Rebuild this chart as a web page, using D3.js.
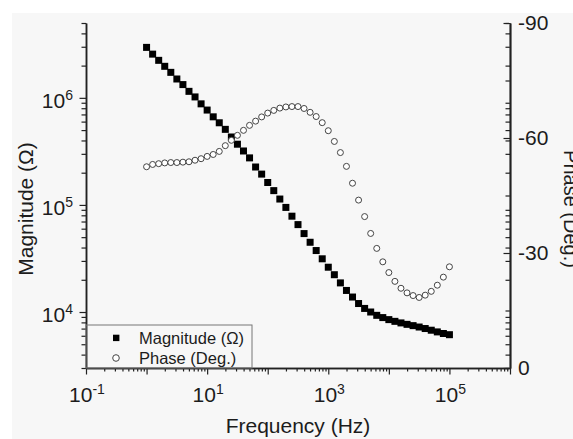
<!DOCTYPE html>
<html>
  <head>
      <meta charset="utf-8">
      <script type="text/javascript" src="https://d3js.org/d3.v7.min.js"></script>
      <style>
        body { margin: 0; background: #fff; }
        text { font-family: Arial, "Liberation Sans", sans-serif; fill: #1c1c1c; }
      </style>
  </head>
  <body>
      <svg width="573" height="439"></svg>
      <script>
        // frequency (Hz), 10 points per decade
        var freq = [1, 1.259, 1.585, 1.995, 2.512, 3.162, 3.981, 5.012, 6.310, 7.943,
                    10, 12.59, 15.85, 19.95, 25.12, 31.62, 39.81, 50.12, 63.10, 79.43,
                    100, 125.9, 158.5, 199.5, 251.2, 316.2, 398.1, 501.2, 631.0, 794.3,
                    1000, 1259, 1585, 1995, 2512, 3162, 3981, 5012, 6310, 7943,
                    10000, 12589, 15849, 19953, 25119, 31623, 39811, 50119, 63096, 79433,
                    100000]

        // |Z| (ohm)
        var magnitude = [2.96e6, 2.56e6, 2.24e6, 1.97e6, 1.73e6, 1.50e6, 1.33e6, 1.15e6, 1.02e6, 8.79e5,
                         7.69e5, 6.65e5, 5.85e5, 5.08e5, 4.31e5, 3.69e5, 3.19e5, 2.75e5, 2.26e5, 1.94e5,
                         1.62e5, 1.36e5, 1.135e5, 9.48e4, 7.85e4, 6.55e4, 5.40e4, 4.48e4, 3.75e4, 3.14e4,
                         2.62e4, 2.23e4, 1.87e4, 1.59e4, 1.38e4, 1.20e4, 1.08e4, 1.00e4, 9310, 8870,
                         8490, 8180, 7910, 7670, 7460, 7240, 7010, 6760, 6520, 6300,
                         6140]

        // phase (deg)
        var phase = [-52.5, -53.1, -53.3, -53.5, -53.6, -53.6, -53.7, -53.8, -54.2, -54.6,
                     -55.2, -55.7, -56.5, -58.0, -59.4, -60.7, -62.0, -63.3, -64.4, -65.5,
                     -66.5, -67.2, -67.8, -68.1, -68.2, -68.2, -67.7, -66.7, -65.6, -64.0,
                     -61.9, -59.1, -56.2, -52.6, -48.2, -43.8, -39.5, -35.1, -31.2, -27.7,
                     -24.9, -22.6, -20.8, -19.6, -18.9, -18.4, -19.0, -20.0, -21.6, -23.7,
                     -26.4]

        var xLabelExp = [-1, 1, 3, 5]
        var yLabelExp = [4, 5, 6]
        var phaseTicks = [0, -30, -60, -90]
        var phaseMinor = [-15, -45, -75]

        var svg = d3.select('svg')
        svg.append('rect').attr('x', 12).attr('y', 13).attr('width', 561).attr('height', 426).attr('fill', '#f7f7f7')

        var x = d3.scaleLog().domain([0.1, 1e6]).range([86, 510])
        var y = d3.scaleLog().domain([3000, 5e6]).range([368, 23])
        var yp = d3.scaleLinear().domain([0, -90]).range([368, 23])

        function decades(lo, hi){ var out = []; for (var e = lo; e <= hi; e++) out.push(Math.pow(10, e)); return out }
        function minors(lo, hi){
            var out = []
            for (var e = lo; e <= hi; e++) for (var m = 2; m <= 9; m++) out.push(m * Math.pow(10, e))
            return out
        }
        function inDomain(s){ var d = s.domain(); return function(v){ return v >= d[0] * 0.999 && v <= d[1] * 1.001 } }

        function style(g){
            g.select('.domain').attr('stroke', '#222').attr('stroke-width', 1.5)
            g.selectAll('.tick line').attr('stroke', '#222').attr('stroke-width', 1.2)
        }

        // bottom axis
        svg.append('g').attr('transform', 'translate(0,368)')
            .call(d3.axisBottom(x).tickValues(minors(-1, 5).filter(inDomain(x))).tickSize(3.5).tickSizeOuter(0).tickFormat(''))
            .call(style)
        svg.append('g').attr('transform', 'translate(0,368)')
            .call(d3.axisBottom(x).tickValues(decades(-1, 6)).tickSize(6.5).tickSizeOuter(0).tickFormat(''))
            .call(style)

        // left axis
        svg.append('g').attr('transform', 'translate(86,0)')
            .call(d3.axisLeft(y).tickValues(minors(3, 6).filter(inDomain(y))).tickSize(4.5).tickSizeOuter(0).tickFormat(''))
            .call(style)
        svg.append('g').attr('transform', 'translate(86,0)')
            .call(d3.axisLeft(y).tickValues(decades(4, 6)).tickSize(6.5).tickSizeOuter(0).tickFormat(''))
            .call(style)

        // right axis (ticks point inward)
        svg.append('g').attr('transform', 'translate(510,0)')
            .call(d3.axisRight(y).tickValues(minors(3, 6).filter(inDomain(y))).tickSize(-4.5).tickSizeOuter(0).tickFormat(''))
            .call(style)
        svg.append('g').attr('transform', 'translate(510,0)')
            .call(d3.axisRight(yp).tickValues(phaseMinor).tickSize(-4.5).tickSizeOuter(0).tickFormat(''))
            .call(style)
        svg.append('g').attr('transform', 'translate(510,0)')
            .call(d3.axisRight(yp).tickValues(phaseTicks).tickSize(-6.5).tickSizeOuter(0).tickPadding(8)
                .tickFormat(function(d){ return String(d) }))
            .call(style)
            .selectAll('.tick text').attr('font-size', 21).attr('font-family', 'Arial, Liberation Sans').attr('fill', '#1c1c1c')

        // power-of-ten labels
        function pow10(sel){
            sel.each(function(d){
                var t = d3.select(this)
                t.append('tspan').text('10')
                t.append('tspan').attr('dy', -8).attr('font-size', 14).text(d)
            })
        }
        svg.selectAll('.xlab').data(xLabelExp).enter().append('text')
            .attr('class', 'xlab')
            .attr('x', function(d){ return x(Math.pow(10, d)) + 1 })
            .attr('y', 402)
            .attr('text-anchor', 'middle')
            .attr('font-size', 21)
            .call(pow10)
        svg.selectAll('.ylab').data(yLabelExp).enter().append('text')
            .attr('class', 'ylab')
            .attr('x', 73)
            .attr('y', function(d){ return y(Math.pow(10, d)) + 10 })
            .attr('text-anchor', 'end')
            .attr('font-size', 21)
            .call(pow10)

        // axis titles
        svg.append('text').attr('x', 298).attr('y', 433).attr('text-anchor', 'middle')
            .attr('font-size', 21).text('Frequency (Hz)')
        svg.append('text').attr('transform', 'translate(33,209) rotate(-90)').attr('text-anchor', 'middle')
            .attr('font-size', 21).text('Magnitude (Ω)')
        svg.append('text').attr('transform', 'translate(564,209) rotate(90)').attr('text-anchor', 'middle')
            .attr('font-size', 20).text('Phase (Deg.)')

        // magnitude squares
        svg.append('g').selectAll('rect').data(magnitude).enter().append('rect')
            .attr('x', function(d, i){ return x(freq[i]) - 3.5 })
            .attr('y', function(d){ return y(d) - 3.5 })
            .attr('width', 7).attr('height', 7)
            .attr('fill', '#000')

        // phase circles
        svg.append('g').selectAll('circle').data(phase).enter().append('circle')
            .attr('cx', function(d, i){ return x(freq[i]) })
            .attr('cy', function(d){ return yp(d) })
            .attr('r', 3)
            .attr('fill', '#fff')
            .attr('stroke', '#444')
            .attr('stroke-width', 1)

        // legend
        var lg = svg.append('g')
        lg.append('rect').attr('x', 86).attr('y', 325).attr('width', 166).attr('height', 43)
            .attr('fill', 'none').attr('stroke', '#777').attr('stroke-width', 1)
        lg.append('rect').attr('x', 113).attr('y', 334.7).attr('width', 6.4).attr('height', 6.4).attr('fill', '#000')
        lg.append('text').attr('x', 139).attr('y', 344).attr('font-size', 16.5).text('Magnitude (Ω)')
        lg.append('circle').attr('cx', 116).attr('cy', 358).attr('r', 3.3)
            .attr('fill', '#fff').attr('stroke', '#444').attr('stroke-width', 1)
        lg.append('text').attr('x', 139).attr('y', 363.5).attr('font-size', 16.5).text('Phase (Deg.)')
      </script>
  </body>
</html>
